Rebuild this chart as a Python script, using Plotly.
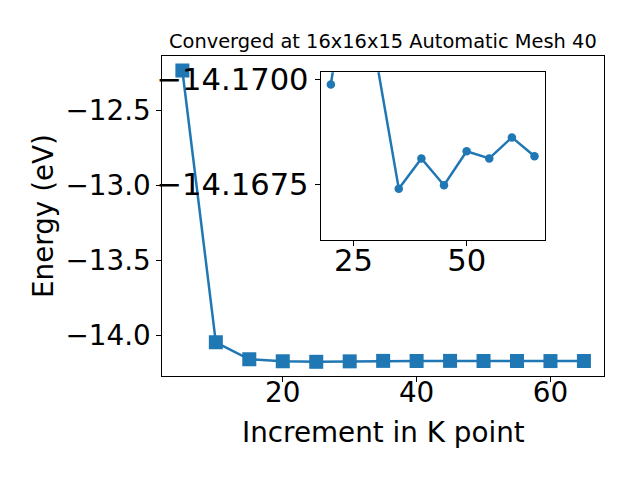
import plotly.graph_objects as go

# Data
kpoints = [5, 10, 15, 20, 25, 30, 35, 40, 45, 50, 55, 60, 65]
energy = [-12.235, -14.044, -14.157, -14.16988, -14.1735, -14.1705, -14.1674,
          -14.16812, -14.16748, -14.16829, -14.16812, -14.16862, -14.16817]
inset_start = 3  # inset shows from k = 20 onward

main_yticks = [-14.0, -13.5, -13.0, -12.5]
main_xticks = [20, 40, 60]
inset_yticks = [-14.1700, -14.1675]
inset_xticks = [25, 50]

title_text = "Converged at 16x16x15 Automatic Mesh 40"
xlabel = "Increment in K point"
ylabel = "Energy (eV)"

BLUE = "#1f77b4"
FONT = "DejaVu Sans"
W, H = 640, 480

def px(x):
    return x / W

def py(y):
    return 1 - y / H

fig = go.Figure()
fig.add_trace(go.Scatter(
    x=kpoints, y=energy, mode="lines+markers",
    line=dict(color=BLUE, width=2.5),
    marker=dict(symbol="square", size=14, color=BLUE),
    xaxis="x", yaxis="y", showlegend=False,
))
fig.add_trace(go.Scatter(
    x=kpoints[inset_start:], y=energy[inset_start:], mode="lines+markers",
    line=dict(color=BLUE, width=2.5),
    marker=dict(symbol="circle", size=8.5, color=BLUE),
    xaxis="x2", yaxis="y2", showlegend=False,
))

def axis_common(fs):
    return dict(
        showline=True, mirror=True, linecolor="black", linewidth=1,
        ticks="outside", ticklen=5, tickwidth=1, tickcolor="black",
        showgrid=False, zeroline=False, automargin=False,
        tickfont=dict(family=FONT, size=fs, color="black"),
    )

fig.update_layout(
    width=W, height=H,
    margin=dict(l=0, r=0, t=0, b=0, pad=0),
    paper_bgcolor="white", plot_bgcolor="white",
    font=dict(family=FONT, color="black"),
    xaxis=dict(domain=[px(162.3), px(604)], range=[2, 68], ticklabelstandoff=-13,
               tickvals=main_xticks, anchor="y", **axis_common(27.8)),
    yaxis=dict(domain=[py(376), py(56)], range=[-14.268, -12.1385],
               tickvals=main_yticks, tickformat=".1f", anchor="x", **axis_common(27.8)),
    xaxis2=dict(domain=[px(320.7), px(544.7)], range=[17.75, 67.25], ticklabelstandoff=-12,
                tickvals=inset_xticks, anchor="y2", **axis_common(30.6)),
    yaxis2=dict(domain=[py(240.3), py(72.3)], range=[-14.16617, -14.17017],
                tickvals=inset_yticks, tickformat=".4f", anchor="x2", **axis_common(30.6)),
    annotations=[
        dict(text=title_text, x=px(383), y=py(41), xref="paper", yref="paper",
             xanchor="center", yanchor="middle", showarrow=False,
             font=dict(family=FONT, size=19.4, color="black")),
        dict(text=xlabel, x=px(383), y=py(432), xref="paper", yref="paper",
             xanchor="center", yanchor="middle", showarrow=False,
             font=dict(family=FONT, size=27.8, color="black")),
        dict(text=ylabel, x=px(44), y=py(216), xref="paper", yref="paper",
             xanchor="center", yanchor="middle", showarrow=False, textangle=-90,
             font=dict(family=FONT, size=27.8, color="black")),
    ],
)

fig.write_html(
    "out.html",
    config={"displayModeBar": False},
    post_script=(
        "document.body.style.margin='0';document.body.style.padding='0';"
        "document.documentElement.style.overflow='hidden';"
        "var d=document.getElementById('{plot_id}');"
        "d.style.position='absolute';d.style.top='0px';d.style.left='0px';"
    ),
)
